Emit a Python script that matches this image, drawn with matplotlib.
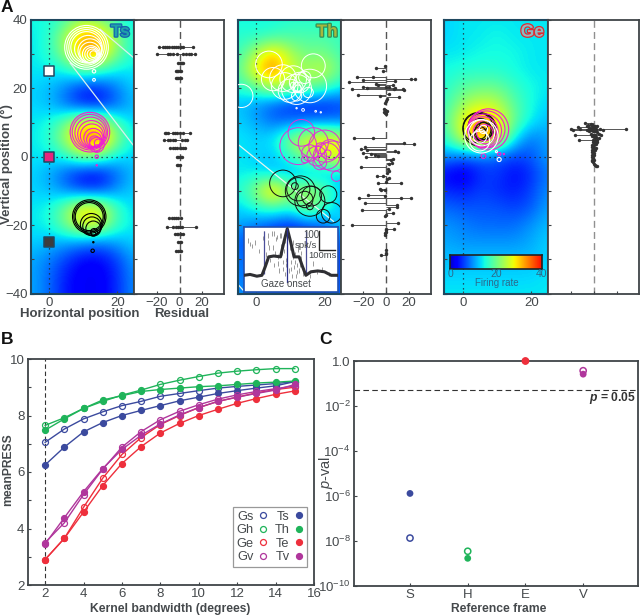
import numpy as np
import matplotlib
matplotlib.use("Agg")
import matplotlib.pyplot as plt
import matplotlib.patheffects as pe
from matplotlib.patches import Circle

plt.rcParams['font.family'] = ['Liberation Sans', 'DejaVu Sans']
plt.rcParams['mathtext.fontset'] = 'custom'
plt.rcParams['mathtext.rm'] = 'Liberation Sans'
plt.rcParams['mathtext.it'] = 'Liberation Sans:italic'
plt.rcParams['mathtext.bf'] = 'Liberation Sans:bold'
plt.rcParams['mathtext.bfit'] = 'Liberation Sans:italic:bold'

W, H = 640, 616
INK = '#3f4448'
TXT = '#45494c'
TICK = 9.5

# ---------- heat maps (firing rate read on a 5 degree grid) ----------
grid_x = [-5, 0, 5, 10, 15, 20, 25]
grid_y = [40, 35, 30, 25, 20, 15, 10, 5, 0, -5, -10, -15, -20, -25, -30, -35, -40]
heat_ts = [
    [15, 15, 18, 22, 20, 16, 14], [14, 16, 24, 33, 32, 22, 15], [14, 16, 23, 33, 31, 21, 15],
    [14, 14, 15, 19, 17, 14, 14], [13, 12, 9, 5, 5, 9, 13], [13, 12, 8, 4, 4, 8, 12],
    [14, 15, 20, 28, 26, 17, 13], [14, 16, 24, 35, 35, 22, 14], [14, 14, 16, 22, 20, 14, 13],
    [13, 11, 7, 3, 3, 8, 12], [13, 12, 9, 6, 6, 10, 13], [14, 15, 21, 29, 27, 17, 13],
    [14, 15, 21, 28, 26, 17, 14], [13, 12, 11, 10, 9, 11, 13], [11, 9, 6, 3, 3, 6, 11],
    [11, 8, 4, 2, 2, 5, 10], [11, 8, 4, 2, 2, 5, 10]]
heat_th = [
    [15, 15, 15, 16, 16, 16, 16], [16, 16, 17, 18, 18, 18, 17], [17, 24, 31, 24, 20, 21, 17],
    [19, 29, 35, 26, 23, 26, 19], [16, 19, 24, 22, 21, 18, 14], [12, 10, 7, 5, 4, 4, 6],
    [13, 11, 8, 8, 9, 9, 9], [14, 13, 14, 22, 28, 30, 26], [14, 13, 12, 17, 22, 27, 29],
    [14, 14, 12, 11, 11, 11, 13], [16, 22, 33, 22, 24, 20, 12], [13, 16, 18, 16, 23, 17, 12],
    [11, 9, 7, 5, 7, 8, 14], [8, 5, 3, 3, 4, 5, 8], [9, 7, 5, 3, 4, 5, 7],
    [9, 8, 6, 4, 5, 6, 7], [10, 9, 7, 6, 6, 7, 8]]
heat_ge = [
    [13, 14, 14, 14, 14, 14, 14], [13, 14, 14, 15, 14, 14, 14], [14, 14, 15, 15, 15, 14, 14],
    [15, 16, 16, 16, 15, 14, 14], [16, 19, 20, 20, 17, 15, 14], [17, 23, 26, 25, 19, 15, 13],
    [18, 28, 34, 30, 20, 14, 12], [16, 26, 34, 29, 14, 8, 11], [10, 8, 8, 7, 6, 7, 11],
    [3, 1, 5, 6, 3, 5, 9], [5, 4, 6, 5, 4, 6, 10], [8, 7, 7, 7, 6, 7, 11],
    [10, 9, 8, 8, 8, 10, 12], [11, 10, 10, 10, 10, 11, 13], [12, 12, 12, 12, 12, 12, 13],
    [13, 13, 13, 13, 13, 13, 14], [14, 14, 14, 14, 14, 14, 14]]

# ---------- response-field rings (x, y, radius) ----------
ts_white = [(11, 32, 6.4), (11, 32, 5.8), (11, 32, 5.2), (11, 32, 4.6), (11.5, 31.5, 4.0), (12, 31, 3.5),
            (12, 30.5, 3.0), (12.3, 30, 2.5), (12.5, 30, 2.0), (12.7, 30, 1.5), (13, 30, 1.0),
            (13.2, 25, 0.5), (13.2, 22.5, 0.4)]
ts_magenta = [(12, 7.2, 5.8), (12, 7.2, 5.2), (12.2, 7, 4.6), (12.4, 6.6, 4.0), (12.6, 6.2, 3.4), (13, 5.5, 2.8),
              (13.2, 5, 2.2), (13.4, 4.5, 1.6), (14, 3.5, 2.2), (14.5, 4, 1.2), (14, 2.5, 1.0),
              (14, 0, 0.5), (14, -2.5, 0.2)]
ts_black = [(11.8, -17.5, 4.9), (11.8, -17.5, 4.5), (11.8, -17.5, 4.1), (12.4, -19.8, 3.2), (12.6, -20.3, 2.7),
            (13, -21, 2.2), (13.2, -22, 1.0), (13, -22.5, 0.7), (13, -25, 0.2), (12.8, -27.5, 0.5)]
th_white = [(3.8, 27, 3.9), (16.8, 26.6, 3.5), (-4.3, 17.8, 3.4), (10.9, 22.7, 3.9), (7.9, 23, 3.9), (5, 22.7, 3.4),
            (11.9, 19.7, 4.4), (8.4, 20.7, 3.9), (15.8, 20.7, 4.9), (12.8, 21.7, 3.0), (9.9, 19.3, 3.4),
            (12.3, 20, 1.0), (12.3, 20.3, 1.5), (10.9, 21, 0.8), (14.3, 23.2, 1.8), (15.3, 18.8, 1.5),
            (11.9, 17.8, 1.5), (13.8, 13.7, 0.4), (11.9, 14.2, 0.2), (17.5, 13.3, 0.25), (19, 13, 0.2)]
th_magenta = [(12.4, 3.1, 5.4), (13.3, 7, 3.9), (20.2, 3.1, 4.7), (16.8, 4.1, 4.4), (22.6, 0.2, 4.4), (17.8, 0.2, 2.9),
              (21.7, 2.1, 2.9), (20.7, 0.2, 3.9), (15.8, 1.1, 2.4), (18.7, -1.8, 2.0), (23.6, -5.7, 1.5),
              (14.3, -0.8, 1.0), (19, 2.5, 1.6), (21, 1, 1.0)]
th_black = [(7.9, -7.8, 3.9), (13, -10, 4.4), (15.8, -13, 4.4), (12.4, -9.5, 3.4), (16.3, -11.5, 2.9), (21.2, -11, 2.5),
            (15.8, -14.5, 1.0), (22.2, -16.4, 3.0), (19.7, -17.4, 2.0), (14.3, -12.5, 2.4), (11.4, -8.6, 1.0)]
ge_black = [(4.9, 8, 4.9), (4.4, 8.5, 4.4), (5.4, 8.8, 3.9), (5, 8, 3.2), (6, 7.5, 2.5), (5, 7, 1.8), (6, 9, 1.2)]
ge_magenta = [(7.4, 8, 6.0), (6.9, 8, 5.4), (6.4, 7.6, 4.9), (5.9, 7.3, 4.4), (6.4, 7.2, 3.4), (6.4, 7, 2.4),
              (6, 0.2, 0.7), (10.6, 0.8, 0.5), (12, 0.8, 0.2)]
ge_white = [(5.4, 6, 4.9), (4.9, 4.6, 2.9), (5.5, 7, 3.8), (5, 6, 2.0), (6, 8, 1.2), (10.6, -0.8, 0.6), (9.8, 1.5, 0.3)]

fix_y = [25, 0, -25]
fix_colors = ['white', '#e8257d', '#3d3d3d']

# zoom-guide lines drawn over the maps
ts_guides = [([15, 25], [37.3, 28.8]), ([6.2, 25], [27.4, 3])]
th_guides = [([-5.5, 22.7], [3.8, -18.9]), ([-5.6, -3.8], [-37, -39])]

# ---------- residuals (residual, vertical position) ----------
res_ts = [(-18, 32), (-15, 32), (-13, 32), (-11, 32), (-9, 32), (-7, 32), (-5, 32), (-3, 32), (-1, 32), (1, 32), (3, 32), (12, 32),
          (-20, 30), (-10, 30), (-8, 30), (-6, 30), (-2, 30), (3, 30), (6, 30), (8, 30), (10, 30), (14, 30),
          (-1, 27.5), (0, 27.5), (1, 27.5), (2, 27.5), (3, 27.5), (-3, 25), (-2, 25), (-1, 25), (0, 25), (1, 25),
          (-3, 23), (-2, 23), (-1, 23), (0, 23), (1, 23),
          (-13, 7), (-12, 7), (-10, 7), (-6, 7), (-4, 7), (-2, 7), (0, 7), (3, 7), (9, 7),
          (-14, 5), (-10, 5), (-8, 5), (-6, 5), (-4, 5), (2, 5), (5, 5), (7, 5),
          (-8, 2.5), (-6, 2.5), (-4, 2.5), (-2, 2.5), (0, 2.5), (1, 2.5), (3, 2.5), (5, 2.5),
          (-2, 0), (-1, 0), (0, 0), (1, 0), (2, 0), (-2, -2.5), (-1, -2.5), (0, -2.5),
          (-9, -18), (-7, -18), (-5, -18), (-3, -18), (-1, -18), (1, -18),
          (-11, -20.5), (-6, -20.5), (-3, -20.5), (-1, -20.5), (0, -20.5), (2, -20.5), (15, -20.5),
          (-4, -22.7), (-2, -22.7), (-1, -22.7), (1, -22.7), (3, -22.7), (-1, -25), (0, -25), (1, -25),
          (-3, -27.5), (-1, -27.5), (0, -27.5), (1, -27.5)]
res_th = [(-9, 26.1), (-1, 26.6), (-3, 25.1), (-26, 23.2), (-11.5, 23.2), (22, 22.7), (26, 22.7), (-33, 22), (-20, 22.4), (8, 22.2),
          (-9, 21.4), (-7, 21), (-20, 20.5), (-17, 20.2), (0, 20.5), (3, 20.5), (6, 20.9), (8, 20.2), (-30, 19.7), (7, 19.7),
          (15, 19.9), (16, 19.5), (-25, 18), (-5.6, 17.8), (3, 18.3), (11.5, 17.4), (0, 16.3), (-1, 15.6), (1, 16.8),
          (-2, 13.9), (-1, 13.7), (0, 13.5), (1, 13.3), (-2, 13.1), (0, 13), (-1, 12.7), (0, 12.4),
          (-28.5, 5.6), (-11.5, 5.4), (15.6, 4.1), (24.4, 3.8), (-21.7, 2.4), (-19, 2.8), (-17, 2), (-20, 1), (-13, 0.9), (10.6, 1.4),
          (8, 1.7), (-18, -0.2), (-10, 0.5), (-7, 0.2), (6, -0.8), (5, -1.8), (4, -1), (3, -2.2), (-21.7, -3), (2, -3.5),
          (3, -4.2), (1, -4.8), (-7.6, -5.5), (-2.6, -5.5), (1, -6.6), (3, -6.2), (13, -7.6), (-7, -7.8), (0, -7.4), (-5, -9.4), (-1, -9.8),
          (-4, -9.8), (-16, -11.2), (-1, -11.4), (-24, -12), (13, -12.2), (22, -12.2), (-19, -13.5), (10, -14.2), (10, -14.7), (3, -15.2),
          (-21, -15.7), (6, -16.4), (-1, -17.4), (0, -16.9), (-30, -20), (10.6, -19.5), (0, -21), (7, -21), (-1, -22.2), (0, -21.4),
          (-1, -22.8), (0, -22), (-4, -28.7), (0, -27.2), (0, -28.2), (0, -28.4)]
res_ge = [(-8, 10), (28, 8.2), (-20, 8), (-19, 7.7), (-14, 8.6), (-12, 8), (8, 7.7), (-17, 6.5), (-13, 5),
          (-6, 9), (-5, 9.3), (-3, 9.5), (-2, 9.3), (-1, 9), (1, 9), (3, 9), (-4, 8.5), (-2, 8.3), (0, 8.5), (2, 8),
          (5, 8), (-6, 7.8), (-4, 7.5), (-3, 7.8), (-1, 7.4), (1, 7.6), (3, 7.3), (-3, 6.8), (-1, 6.5), (1, 6.5), (4, 6.8), (6, 6.3),
          (-2, 6), (0, 5.8), (2, 5.9), (4, 5.5), (-1, 5), (1, 5), (3, 5), (-1, 4.3), (1, 4.2), (3, 4.2), (-2, 3.5), (0, 3.5), (2, 3.6),
          (-2, 2.8), (0, 2.7), (2, 2.7), (-2, 2), (0, 2), (1, 2.1), (-2, 1.3), (0, 1.2), (-2, 0.6), (0, 0.5), (-2, -0.1), (-1, -0.3),
          (-2, -0.9), (0, -1), (-1, -1.6), (-2, -1.2), (0, -2), (1, -2.5), (2, -2.7), (3, -2.8)]

# ---------- inset: peri-saccadic activity ----------
psth_t = [0, 18, 38, 53, 63, 73, 88, 108, 118, 128, 138, 148, 163, 173, 183, 198, 218, 238, 258, 278]
psth_v = [11, 12, 10, 11, 21, 32, 33, 32, 49, 64, 49, 32, 32, 21, 11, 15, 16, 15, 11, 11]
raster_t = [12, 18, 25, 32, 45, 55, 60, 66, 72, 78, 82, 86, 90, 95, 100, 104, 108, 110, 114, 118, 120, 122, 125, 128, 130, 133, 136,
            139, 142, 145, 148, 152, 156, 160, 165, 170, 178, 186, 195, 205, 215, 230, 250,
            70, 74, 88, 92, 98, 102, 106, 112, 116, 124, 134, 140, 144, 150, 154, 158, 162, 168, 174]
raster_v = [52, 48, 46, 50, 40, 55, 60, 36, 50, 30, 60, 44, 24, 54, 34, 18, 46, 58, 28, 40, 14, 52, 24, 36, 60, 18, 44, 28, 12, 50,
            22, 36, 16, 42, 24, 32, 18, 48, 12, 26, 16, 20, 14,
            58, 44, 60, 38, 56, 26, 58, 38, 20, 30, 58, 20, 34, 28, 12, 24, 18, 38, 14]
onset_lines_t = [58, 183]

# ---------- panel B ----------
bandwidth = list(range(2, 16))
gs = [7.05, 7.52, 7.88, 8.13, 8.35, 8.5, 8.68, 8.78, 8.88, 8.97, 9.03, 9.08, 9.13, 9.2]
ts = [6.25, 6.88, 7.42, 7.75, 8.0, 8.18, 8.35, 8.52, 8.65, 8.78, 8.88, 8.97, 9.05, 9.2]
gh = [7.65, 7.92, 8.25, 8.5, 8.72, 8.9, 9.1, 9.25, 9.38, 9.5, 9.57, 9.62, 9.66, 9.66]
th = [7.48, 7.88, 8.25, 8.55, 8.7, 8.85, 8.92, 8.97, 9.02, 9.05, 9.1, 9.15, 9.18, 9.22]
ge = [2.9, 3.65, 4.75, 5.78, 6.62, 7.22, 7.68, 8.0, 8.28, 8.5, 8.65, 8.8, 8.92, 9.0]
te = [2.9, 3.65, 4.58, 5.52, 6.3, 6.9, 7.38, 7.72, 8.0, 8.22, 8.43, 8.6, 8.75, 8.87]
gv = [3.5, 4.2, 5.2, 6.1, 6.88, 7.43, 7.85, 8.15, 8.38, 8.58, 8.73, 8.85, 8.95, 9.05]
tv = [3.45, 4.38, 5.3, 6.12, 6.8, 7.3, 7.7, 8.02, 8.28, 8.5, 8.65, 8.78, 8.9, 9.1]
BLUE, GREEN, RED, PURPLE = '#3b4a9e', '#1fb45a', '#ee2f3c', '#b0369c'

# ---------- panel C ----------
frames = ['S', 'H', 'E', 'V']
p_gaze = [1.35e-8, 3.5e-9, 1.0, 0.37]
p_target = [1.3e-6, 1.7e-9, 1.0, 0.26]
frame_colors = [BLUE, GREEN, RED, PURPLE]

fig = plt.figure(figsize=(W / 100, H / 100), dpi=100, facecolor='white')


def axpx(x0, y0, x1, y1, **kw):
    return fig.add_axes([x0 / W, 1 - y1 / H, (x1 - x0) / W, (y1 - y0) / H], **kw)


def txtpx(x, y, s, **kw):
    kw.setdefault('ha', 'center')
    kw.setdefault('va', 'center')
    kw.setdefault('color', TXT)
    return fig.text(x / W, 1 - y / H, s, **kw)


def style(ax, color=INK, lw=1.3):
    for s in ax.spines.values():
        s.set_color(color)
        s.set_linewidth(lw)


def heat_panel(x0, x1, xzero, grid, rings, rx1, rzero, name, name_fc, name_ec, name_x, dash_col):
    ax = axpx(x0, 20, x1, 293.5)
    ppd = 3.41
    ax.imshow(np.array(grid, float), cmap='jet', vmin=-3, vmax=45, aspect='auto', interpolation='bicubic',
              extent=[grid_x[0] - 2.5, grid_x[-1] + 2.5, grid_y[-1] - 2.5, grid_y[0] + 2.5], zorder=0)
    ax.set_xlim(-(xzero - x0) / ppd, (x1 - xzero) / ppd)
    ax.set_ylim(-40, 40)
    ax.axvline(0, color='#223', lw=0.9, ls=(0, (1, 3)), zorder=1)
    ax.axhline(0, color='#223', lw=0.9, ls=(0, (1, 3)), zorder=1)
    for data, col, lw in rings:
        for cx, cy, r in data:
            ax.add_patch(Circle((cx, cy), r, fill=False, ec=col, lw=lw, zorder=3))
    ax.set_xticks([0, 20])
    ax.set_yticks(range(-40, 41, 10))
    ax.tick_params(direction='in', length=2.2, width=0.8, color=INK, labelcolor=TXT, labelsize=TICK, pad=2.5)
    ax.tick_params(axis='y', labelleft=False)
    style(ax, '#20485f', 1.5)
    txtpx(name_x, 32, name, ha='right', fontsize=12.5, fontweight='bold', color=name_fc,
          path_effects=[pe.withStroke(linewidth=1.8, foreground=name_ec)])
    rax = axpx(x1, 20, rx1, 293.5)
    rax.set_xlim(-(rzero - x1) / 1.13, (rx1 - rzero) / 1.13)
    rax.set_ylim(-40, 40)
    rax.axvline(0, color=dash_col, lw=1.0, ls=(0, (5, 3)), zorder=1)
    rax.set_xticks([-20, 0, 20])
    rax.set_yticks(range(-40, 41, 10))
    rax.tick_params(direction='in', length=2.2, width=0.8, color=INK, labelcolor=TXT, labelsize=TICK, pad=2.5)
    rax.tick_params(axis='y', labelleft=False)
    style(rax)
    return ax, rax


def residuals(ax, pts):
    r = [p[0] for p in pts]
    y = [p[1] for p in pts]
    ax.hlines(y, 0, r, color='#555555', lw=0.7, zorder=2)
    ax.scatter(r, y, s=6, color='#333333', zorder=3, linewidths=0)


# Ts
a1, r1 = heat_panel(31, 134, 49, heat_ts, [(ts_white, 'white', 0.8), (ts_magenta, '#f020d0', 0.8), (ts_black, 'black', 0.8)],
                    224, 179.5, 'Ts', '#1fa3a8', '#1560b0', 130, '#555555')
a1.set_yticks([-40, -20, 0, 20, 40])
a1.set_yticks(range(-30, 31, 20), minor=True)
a1.tick_params(axis='y', which='both', direction='in', length=2.2, width=0.8, color=INK, labelleft=True)
for sy, c in zip(fix_y, fix_colors):
    a1.scatter([0], [sy], marker='s', s=46, color=c, edgecolors='#20485f', linewidths=1.1, zorder=4)
for gx, gy in ts_guides:
    a1.plot(gx, gy, color='#d8f0ee', lw=0.9, zorder=2)
txtpx(7, 164, 'Vertical position (°)', rotation=90, fontsize=9.5, fontweight='bold')
txtpx(80, 314, 'Horizontal position', fontsize=9.5, fontweight='bold')
txtpx(182, 314, 'Residual', fontsize=9.5, fontweight='bold')
residuals(r1, res_ts)

# Th
a2, r2 = heat_panel(238, 341, 256, heat_th, [(th_white, 'white', 0.7), (th_magenta, '#e030d8', 0.7), (th_black, '#111111', 0.7)],
                    431, 386, 'Th', '#a8b83c', '#2f8f5a', 338, '#555555')
for gx, gy in th_guides:
    a2.plot(gx, gy, color='#e6f6f0', lw=0.9, zorder=2)
residuals(r2, res_th)

ins = axpx(244, 227, 338, 292)
ins.set_xlim(0, 278)
ins.set_ylim(-8, 66)
ins.vlines(raster_t, np.array(raster_v) - 4, np.array(raster_v) + 1, color='#9a9a9a', lw=0.7, zorder=1)
ins.vlines(onset_lines_t, 12, 62, color='#4b4f9a', lw=0.9, zorder=2)
ins.plot(psth_t, psth_v, color='#2f2f33', lw=2.2, zorder=3, solid_joinstyle='round')
ins.plot([128, 128], [3, 64], color='#2a2f8a', lw=0.9, zorder=4)
ins.plot([221, 221, 269], [61, 40, 40], color='#222222', lw=1.0, zorder=4)
ins.set_xticks([])
ins.set_yticks([])
style(ins, '#2050b0', 1.2)
txtpx(311, 235, '100', fontsize=7)
txtpx(306, 245, 'spk/s', fontsize=6.8)
txtpx(323, 256, '100ms', fontsize=6.8)
txtpx(286, 284, 'Gaze onset', fontsize=7)

# Ge
a3, r3 = heat_panel(444, 548, 463, heat_ge, [(ge_black, '#111111', 0.8), (ge_magenta, '#f020d0', 0.8), (ge_white, 'white', 0.8)],
                    639, 594, 'Ge', '#8fb8c0', '#e02a30', 544, '#909090')
r3.tick_params(axis='x', labelbottom=False)
residuals(r3, res_ge)
cb = axpx(450, 254.5, 541.5, 269)
cb.imshow(np.linspace(0, 40, 256).reshape(1, -1), cmap='jet', vmin=-3, vmax=45, aspect='auto', extent=[0, 40, 0, 1])
cb.set_xticks([])
cb.set_yticks([])
style(cb, '#222222', 1.2)
for val, xp in zip(['0', '20', '40'], [450, 496, 541]):
    txtpx(xp, 274, val, fontsize=7.5, color='#2c6a8a')
txtpx(497, 283, 'Firing rate', fontsize=7, color='#2c6a8a')

# panel B
b = axpx(28, 359, 314, 585)
b.set_xlim(1.11, 16)
b.set_ylim(2, 10)
b.axvline(2, color='#333333', lw=0.8, ls=(0, (4, 2.5)), zorder=1)
series = [('Gs', gs, BLUE, 'none'), ('Ts', ts, BLUE, BLUE), ('Gh', gh, GREEN, 'none'), ('Th', th, GREEN, GREEN),
          ('Ge', ge, RED, 'none'), ('Te', te, RED, RED), ('Gv', gv, PURPLE, 'none'), ('Tv', tv, PURPLE, PURPLE)]
for lab, vals, col, fc in series:
    b.plot(bandwidth, vals, '-o', color=col, mfc=fc, mec=col, mew=0.9, ms=4.3, lw=1.0, label=lab, zorder=3)
b.set_xticks(range(2, 17, 2))
b.set_yticks(range(2, 11, 2))
b.set_yticks(range(3, 10, 2), minor=True)
b.tick_params(which='both', direction='in', length=2.2, width=0.8, color=INK, labelcolor=TXT, labelsize=TICK, pad=2.5)
style(b)
txtpx(170, 609, 'Kernel bandwidth (degrees)', fontsize=8.7, fontweight='bold')
txtpx(8, 470, 'meanPRESS', rotation=90, fontsize=8.7, fontweight='bold')
hs, ls = b.get_legend_handles_labels()
order = [0, 2, 4, 6, 1, 3, 5, 7]
leg = b.legend([hs[i] for i in order], [ls[i] for i in order], ncol=2, markerfirst=False, loc='lower right',
               bbox_to_anchor=(0.9755, 0.0796), fontsize=9.2, frameon=True, fancybox=False,
               edgecolor='#999999', framealpha=1, handlelength=0.6, handletextpad=0.45, columnspacing=0.6,
               labelspacing=0.12, borderpad=0.3, borderaxespad=0, numpoints=1)
for h in leg.legend_handles:
    h.set_linestyle('none')
for t in leg.get_texts():
    t.set_color(TXT)
leg.get_frame().set_linewidth(0.9)

# panel C
c = axpx(354, 361, 638, 586)
c.set_yscale('log')
c.set_xlim(0.03, 4.95)
c.set_ylim(1e-10, 1)
c.axhline(0.05, color='#333333', lw=0.8, ls=(0, (5, 3)), zorder=1)
pos = np.arange(1, len(frames) + 1)
c.scatter(pos, p_gaze, s=20, facecolors='none', edgecolors=frame_colors, linewidths=1.1, zorder=3, clip_on=False)
c.scatter(pos, p_target, s=24, color=frame_colors, linewidths=0, zorder=3, clip_on=False)
c.set_xticks(pos)
c.set_xticklabels(frames)
yt = [1, 1e-2, 1e-4, 1e-6, 1e-8, 1e-10]
c.set_yticks(yt)
c.set_yticklabels(['1.0', r'$\mathregular{10^{-2}}$', r'$\mathregular{10^{-4}}$', r'$\mathregular{10^{-6}}$',
                   r'$\mathregular{10^{-8}}$', r'$\mathregular{10^{-10}}$'])
c.minorticks_off()
c.tick_params(direction='in', length=2.2, width=0.8, color=INK, labelcolor=TXT, labelsize=TICK, pad=2.5)
style(c)
txtpx(499, 609, 'Reference frame', fontsize=8.7, fontweight='bold')
txtpx(326, 472, '$\\mathit{p}$-val', rotation=90, fontsize=10.5)
txtpx(636, 398, r'$\mathbfit{p}$ = 0.05', ha='right', fontsize=8.7, fontweight='bold', color='#333333')

for lab, xp, yp in [('A', 1, 8), ('B', 1, 340), ('C', 319, 340)]:
    txtpx(xp, yp, lab, ha='left', fontsize=12.5, fontweight='bold', color='#111111')

fig.savefig('out.png', dpi=100, facecolor='white')
